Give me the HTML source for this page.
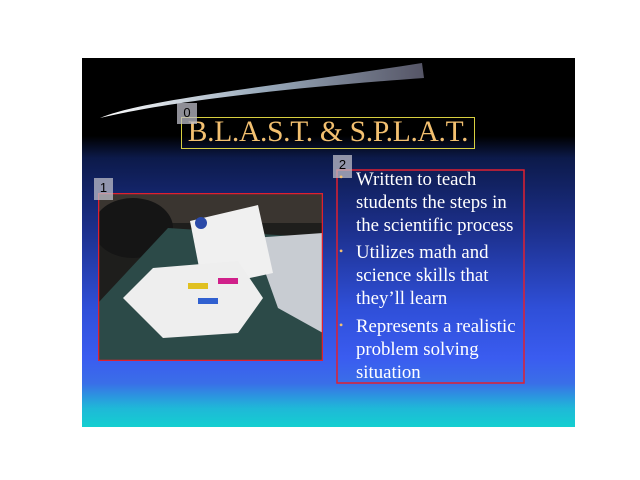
<!DOCTYPE html>
<html><head><meta charset="utf-8"><style>
body{margin:0;width:640px;height:480px;background:#fff;position:relative;overflow:hidden;font-family:"Liberation Serif",serif}
.abs{position:absolute}
#slide{left:82px;top:58px;width:493px;height:369px;background:linear-gradient(to bottom,#000 0px,#000 78px,#0c1a4a 100px,#1c2f8a 170px,#2f4fd8 250px,#3a5cf0 300px,#3a6ee8 325px,#1fb8d8 350px,#14cfd0 369px)}
.lbl{background:rgba(190,190,200,0.75);font-family:"Liberation Sans",sans-serif;font-size:13px;color:#000;text-align:center;line-height:20px}
.txt{color:#fff;font-size:18.8px;line-height:23px;left:356px;white-space:nowrap}
.bul{color:#f3c070;font-size:12px;left:339px}
</style></head><body>
<div id="slide" class="abs"></div>
<svg class="abs" style="left:82px;top:58px" width="493" height="369">
<defs><linearGradient id="g" x1="0" x2="1"><stop offset="0" stop-color="#fff"/><stop offset="0.5" stop-color="#9ab"/><stop offset="1" stop-color="#556"/></linearGradient></defs>
<path d="M18 60 C60 42 180 30 340 5 L342 20 C200 30 80 45 18 60 Z" fill="url(#g)"/>
</svg>
<div class="abs" style="left:181px;top:117px;width:292px;height:30px;border:1px solid #d8d040;color:#f3c070;font-size:29.5px;line-height:28px;text-align:center;white-space:nowrap;letter-spacing:-0.3px">B.L.A.S.T. &amp; S.P.L.A.T.</div>
<div class="abs lbl" style="left:177px;top:103px;width:20px;height:21px">0</div>
<svg class="abs" style="left:98px;top:193px" width="225" height="168">
<rect width="225" height="168" fill="#1e1e1c"/>
<rect x="0" y="0" width="225" height="30" fill="#3a3530"/>
<ellipse cx="35" cy="35" rx="40" ry="30" fill="#151515"/>
<polygon points="0,110 70,35 225,45 225,168 0,168" fill="#2c4a48"/>
<polygon points="155,45 225,40 225,140 180,115" fill="#c8ccd2"/>
<polygon points="92,28 160,12 175,80 105,95" fill="#f0f0f0"/>
<circle cx="103" cy="30" r="6" fill="#2b4aa8"/>
<rect x="85" y="75" width="30" height="25" fill="#111"/>
<polygon points="25,105 55,75 140,68 165,105 140,140 65,145" fill="#eeeeee"/>
<rect x="90" y="90" width="20" height="6" fill="#e0c020"/><rect x="120" y="85" width="20" height="6" fill="#d0208a"/><rect x="100" y="105" width="20" height="6" fill="#3060d0"/>
<rect x="0.5" y="0.5" width="224" height="167" fill="none" stroke="#e02030" stroke-width="1.5"/>
</svg>
<div class="abs lbl" style="left:94px;top:178px;width:19px;height:22px">1</div>
<svg class="abs" style="left:336px;top:169px" width="190" height="216"><rect x="1" y="1" width="187" height="213" fill="none" stroke="#e02030" stroke-width="1.5"/></svg>
<div class="abs lbl" style="left:333px;top:155px;width:19px;height:23px">2</div>
<div class="abs bul" style="top:170px">•</div>
<div class="abs txt" style="top:168px">Written to teach<br>students the steps in<br>the scientific process</div>
<div class="abs bul" style="top:244px">•</div>
<div class="abs txt" style="top:241px">Utilizes math and<br>science skills that<br>they’ll learn</div>
<div class="abs bul" style="top:318px">•</div>
<div class="abs txt" style="top:315px">Represents a realistic<br>problem solving<br>situation</div>
</body></html>
